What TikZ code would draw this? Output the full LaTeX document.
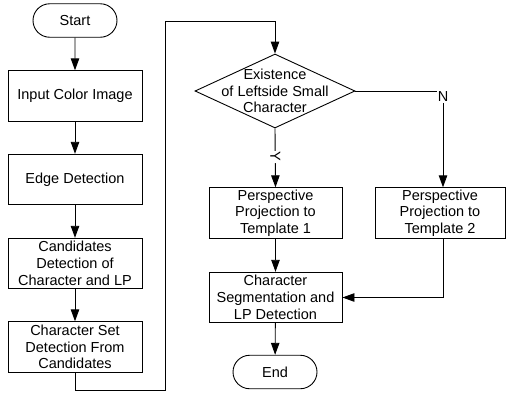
\documentclass[tikz,border=0pt]{standalone}
\usepackage{fontspec}
\setmainfont{Liberation Sans}
\usetikzlibrary{shapes.geometric,shapes.misc,arrows.meta}
\begin{document}
\begin{tikzpicture}[x=1pt,y=-1pt,
  every node/.style={font=\fontsize{14.5}{16.7}\selectfont, align=center, inner sep=0pt},
  box/.style={draw, line width=0.9pt, minimum width=134pt, minimum height=50.5pt},
  term/.style={draw, line width=0.9pt, rounded rectangle, minimum width=84pt, minimum height=33.5pt},
  dia/.style={draw, line width=0.9pt, diamond, minimum width=160pt, minimum height=74pt},
  arr/.style={line width=0.9pt, -{Triangle[length=12pt,width=8.5pt]}},
  ln/.style={line width=0.9pt},
  lbl/.style={fill=white, inner sep=1pt}]
\useasboundingbox (0,0) rectangle (506,394);
\node[term] (start) at (75,20.5) {Start};
\node[box] (input) at (75,96) {Input Color Image};
\node[box] (edge) at (75,179.5) {Edge Detection};
\node[box] (cand) at (75,263.5) {Candidates\\Detection of\\Character and LP};
\node[box] (cset) at (75,347) {Character Set\\Detection From\\Candidates};
\node[dia] (dec) at (275,91) {};
\node (dect) at (275,91) {Existence\\of Leftside Small\\Character};
\node[box, minimum width=133pt] (p1) at (275.5,213) {Perspective\\Projection to\\Template 1};
\node[box, minimum width=130pt] (p2) at (440,213) {Perspective\\Projection to\\Template 2};
\node[box, minimum width=133pt] (seg) at (275.5,297.5) {Character\\Segmentation and\\LP Detection};
\node[term] (end) at (275,372) {End};
\coordinate (c1) at (165,390);
\coordinate (c2) at (165,21.5);
\coordinate (n1) at (443,91);
\coordinate (n2) at (443,297.5);
\draw[arr] (start) -- (input);
\draw[arr] (input) -- (edge);
\draw[arr] (edge) -- (cand);
\draw[arr] (cand) -- (cset);
\draw[arr] (cset.south) |- (c1) -- (c2) -| (dec.north);
\draw[arr] (dec.south) -- node[lbl, rotate=-90, pos=0.48] (ylab) {Y} (p1.north);
\draw[ln] (dec.east) -- (n1);
\draw[arr] (n1) -- (n1 |- p2.north);
\node[lbl] (nlab) at (443,97) {N};
\draw[arr] (p1) -- (seg);
\draw[arr] (p2.south -| n1) -- (n2) -- (seg.east);
\draw[arr] (seg) -- (end);
\end{tikzpicture}
\end{document}
